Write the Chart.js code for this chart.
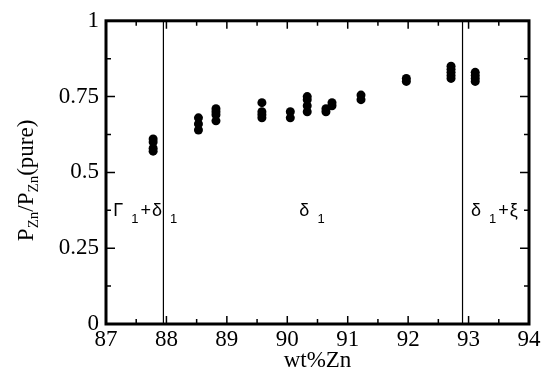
<!DOCTYPE html>
<html><head><meta charset="utf-8">
<script src="https://cdn.jsdelivr.net/npm/chart.js@4"></script>
<style>html,body{margin:0;padding:0;background:#fff}</style>
</head>
<body>
<canvas id="c" width="548" height="385"></canvas>
<script>
// ---- data ----
const zincWt = [
  87.78, 87.78, 87.78, 87.78,
  88.53, 88.53, 88.53,
  88.82, 88.82, 88.82, 88.82,
  89.58, 89.58, 89.58, 89.58,
  90.05, 90.05,
  90.33, 90.33, 90.33, 90.33,
  90.64, 90.64,
  90.74, 90.74,
  91.22, 91.22,
  91.97, 91.97,
  92.71, 92.71, 92.71, 92.71, 92.71,
  93.11, 93.11, 93.11, 93.11
];
const pressureRatio = [
  0.61, 0.60, 0.58, 0.57,
  0.68, 0.66, 0.64,
  0.71, 0.70, 0.69, 0.67,
  0.73, 0.70, 0.69, 0.68,
  0.70, 0.68,
  0.75, 0.74, 0.72, 0.70,
  0.71, 0.70,
  0.73, 0.72,
  0.755, 0.74,
  0.81, 0.80,
  0.85, 0.84, 0.83, 0.82, 0.81,
  0.83, 0.82, 0.81, 0.80
];
const boundaryWt = [87.95, 92.9];
const xMajorTicks = [87, 88, 89, 90, 91, 92, 93, 94];
const xMinorTicks = [87.5, 88.5, 89.5, 90.5, 91.5, 92.5, 93.5];
const yMajorTicks = [0, 0.25, 0.5, 0.75, 1];
const yMinorTicks = [0.125, 0.375, 0.625, 0.875];
const yTickLabels = ['0', '0.25', '0.5', '0.75', '1'];
const phaseLabelText = [
  [['Γ', 0], ['1', 1], ['+', 0], ['δ', 0], ['1', 1]],
  [['δ', 0], ['1', 1]],
  [['δ', 0], ['1', 1], ['+', 0], ['ξ', 0]]
];
const phaseLabelX = [87.12, 90.2, 93.04];
const phaseLabelY = [0.357, 0.357, 0.357];

// ---- chart ----
const serif = "'Liberation Serif', 'Times New Roman', Times, serif";
const sans = "'Liberation Sans', Arial, Helvetica, sans-serif";

function build() {
  const points = zincWt.map((x, i) => ({x: x, y: pressureRatio[i]}));
  const boundaryDatasets = boundaryWt.map(x => ({
    data: [{x: x, y: 0}, {x: x, y: 1}],
    showLine: true, borderColor: '#000', borderWidth: 1.2,
    pointRadius: 0, pointHoverRadius: 0
  }));

  const framePlugin = {
    id: 'frame',
    afterDraw(chart) {
      const ctx = chart.ctx;
      const a = chart.chartArea;
      const xs = chart.scales.x, ys = chart.scales.y;
      ctx.save();
      ctx.strokeStyle = '#000';
      ctx.lineWidth = 1.5;
      const tick = (vals, len) => {
        vals.forEach(v => {
          const px = xs.getPixelForValue(v);
          ctx.beginPath();
          ctx.moveTo(px, a.bottom); ctx.lineTo(px, a.bottom - len);
          ctx.moveTo(px, a.top); ctx.lineTo(px, a.top + len);
          ctx.stroke();
        });
      };
      const tickY = (vals, len) => {
        vals.forEach(v => {
          const py = ys.getPixelForValue(v);
          ctx.beginPath();
          ctx.moveTo(a.left, py); ctx.lineTo(a.left + len, py);
          ctx.moveTo(a.right, py); ctx.lineTo(a.right - len, py);
          ctx.stroke();
        });
      };
      tick(xMajorTicks, 8); tick(xMinorTicks, 5);
      tickY(yMajorTicks, 9); tickY(yMinorTicks, 5);
      ctx.lineWidth = 3;
      ctx.strokeRect(a.left, a.top, a.right - a.left, a.bottom - a.top);

      ctx.fillStyle = '#000';
      ctx.textBaseline = 'alphabetic';
      phaseLabelText.forEach((parts, i) => {
        let px = xs.getPixelForValue(phaseLabelX[i]);
        const py = ys.getPixelForValue(phaseLabelY[i]);
        parts.forEach(([t, sub]) => {
          if (sub) {
            ctx.font = '13px ' + sans;
            px += 7;
            ctx.fillText(t, px, py + 7);
            px += ctx.measureText(t).width + 2;
          } else {
            ctx.font = '18px ' + sans;
            ctx.fillText(t, px, py);
            px += ctx.measureText(t).width + 1;
          }
        });
      });

      const yParts = [['P', 0], ['Zn', 1], ['/P', 0], ['Zn', 1], ['(pure)', 0]];
      const bigF = '23px ' + serif, smallF = '15px ' + serif;
      let total = 0;
      yParts.forEach(([t, s]) => { ctx.font = s ? smallF : bigF; total += ctx.measureText(t).width; });
      ctx.translate(33, (a.top + a.bottom) / 2 + 8);
      ctx.rotate(-Math.PI / 2);
      let cx = -total / 2;
      yParts.forEach(([t, s]) => {
        ctx.font = s ? smallF : bigF;
        ctx.fillText(t, cx, s ? 5 : 0);
        cx += ctx.measureText(t).width;
      });
      ctx.restore();
    }
  };

  new Chart(document.getElementById('c'), {
    type: 'scatter',
    data: {
      datasets: [{
        data: points,
        backgroundColor: '#000', borderColor: '#000', borderWidth: 0,
        pointRadius: 4.5, pointHoverRadius: 4.5, pointStyle: 'circle'
      }].concat(boundaryDatasets)
    },
    options: {
      responsive: false,
      animation: false,
      devicePixelRatio: 1,
      layout: {padding: {top: 19, right: 19, left: 0, bottom: 0}},
      plugins: {legend: {display: false}, tooltip: {enabled: false}},
      scales: {
        x: {
          type: 'linear', min: 87, max: 94,
          afterBuildTicks(s) { s.ticks = xMajorTicks.map(v => ({value: v})); },
          afterFit(s) { s.height = 61; },
          grid: {display: false, drawTicks: false},
          border: {display: false},
          ticks: {color: '#000', font: {family: serif, size: 23}, padding: 2, maxRotation: 0, autoSkip: false,
                  callback: v => String(v)},
          title: {display: true, text: 'wt%Zn', color: '#000', font: {family: serif, size: 23}, padding: {top: 0, bottom: 10}}
        },
        y: {
          min: 0, max: 1,
          afterBuildTicks(s) { s.ticks = yMajorTicks.map(v => ({value: v})); },
          afterFit(s) { s.width = 106; },
          grid: {display: false, drawTicks: false},
          border: {display: false},
          ticks: {color: '#000', font: {family: serif, size: 23}, padding: 7,
                  callback: v => yTickLabels[yMajorTicks.indexOf(v)]}
        }
      }
    },
    plugins: [framePlugin]
  });
}

Promise.all([
  document.fonts.load("23px 'Liberation Serif'"),
  document.fonts.load("18px 'Liberation Sans'")
]).then(build, build);
</script>
</body></html>
